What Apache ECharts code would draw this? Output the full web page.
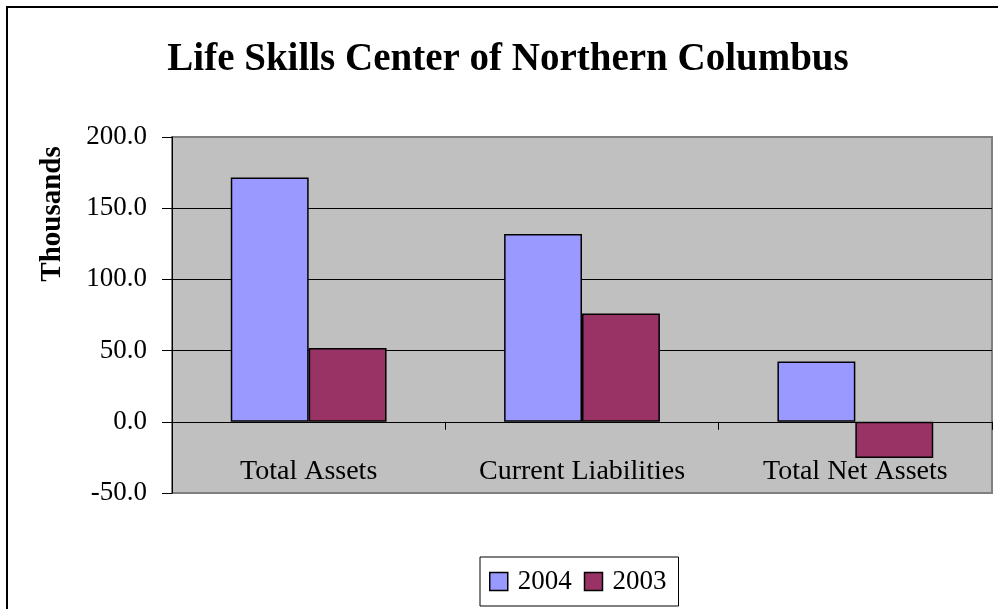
<!DOCTYPE html>
<html>
<head>
<meta charset="utf-8">
<script src="https://cdn.jsdelivr.net/npm/echarts@6/dist/echarts.min.js"></script>
<style>
  html, body { margin: 0; padding: 0; background: #fff; }
  #main { width: 998px; height: 609px; }
</style>
</head>
<body>
<div id="main"></div>
<script>
// 数据
let categories = ['Total Assets', 'Current Liabilities', 'Total Net Assets'];
let values2004 = [171.6, 131.8, 42.4];
let values2003 = [51.8, 76.0, -25.5];
let yTicks = [-50, 0, 50, 100, 150, 200];

let serif = '"Liberation Serif", "Times New Roman", serif';

let myChart = echarts.init(document.getElementById('main'));

let option = {
	backgroundColor: '#fff',
	animation: false,
	graphic: [{
		// 外框 (右下被裁掉)
		type: 'rect',
		shape: { x: 7, y: 7, width: 1200, height: 800 },
		style: { fill: 'none', stroke: '#000', lineWidth: 2 },
		silent: true
	}, {
		type: 'text',
		x: 508,
		y: 60,
		style: {
			text: 'Life Skills Center of Northern Columbus',
			font: 'bold 39px ' + serif,
			fill: '#000',
			align: 'center',
			verticalAlign: 'middle'
		}
	}, {
		type: 'text',
		x: 53,
		y: 214,
		rotation: Math.PI / 2,
		style: {
			text: 'Thousands',
			font: 'bold 29px ' + serif,
			fill: '#000',
			align: 'center',
			verticalAlign: 'middle'
		}
	}],
	legend: {
		left: 480,
		top: 557,
		padding: [11, 12, 11, 9],
		borderColor: '#000',
		borderWidth: 1,
		itemWidth: 18,
		itemHeight: 18,
		itemGap: 12,
		icon: 'rect',
		itemStyle: { borderColor: '#000', borderWidth: 1.5 },
		textStyle: {
			fontFamily: serif,
			fontSize: 27,
			color: '#000',
			padding: [0, 0, 0, 5]
		},
		data: ['2004', '2003']
	},
	grid: {
		left: 172,
		right: 6,
		top: 137,
		bottom: 116,
		show: true,
		backgroundColor: '#c0c0c0',
		borderColor: '#808080',
		borderWidth: 2
	},
	xAxis: {
		type: 'category',
		data: categories,
		axisLine: { onZero: true, lineStyle: { color: '#000', width: 1 } },
		axisTick: { show: true, inside: false, length: 8, lineStyle: { color: '#000' } },
		axisLabel: {
			margin: -35,		// 标签在绘图区内部
			fontFamily: serif,
			fontSize: 28,
			color: '#000'
		},
		splitLine: { show: false }
	},
	yAxis: {
		type: 'value',
		min: yTicks[0],
		max: yTicks[yTicks.length - 1],
		interval: 50,
		axisLine: { show: true, lineStyle: { color: '#000', width: 1 } },
		axisTick: { show: true, inside: false, length: 10, lineStyle: { color: '#000' } },
		axisLabel: {
			margin: 25,
			fontFamily: serif,
			fontSize: 27,
			color: '#000',
			formatter: v => v.toFixed(1)
		},
		splitLine: {
			show: true,
			lineStyle: {
				// 上下边框用灰色, 中间网格线黑色
				color: ['#808080', '#000', '#000', '#000', '#000', '#808080'],
				width: 1
			}
		}
	},
	series: [{
		name: '2004',
		type: 'bar',
		data: values2004,
		barGap: 0,
		barCategoryGap: '43%',
		itemStyle: { color: '#9999ff', borderColor: '#000', borderWidth: 1.5 }
	}, {
		name: '2003',
		type: 'bar',
		data: values2003,
		itemStyle: { color: '#993366', borderColor: '#000', borderWidth: 1.5 }
	}]
};

myChart.setOption(option);
</script>
</body>
</html>
